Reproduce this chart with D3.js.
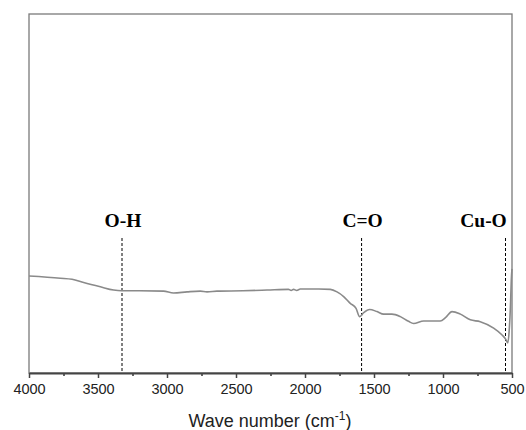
<!DOCTYPE html>
<html>
<head>
<meta charset="utf-8">
<script src="https://cdn.jsdelivr.net/npm/d3@7"></script>
<style>
  body { margin: 0; background: #fff; }
  svg { display: block; }
  .tick text { font-family: "Liberation Sans", Arial, sans-serif; }
</style>
</head>
<body>
<div id="chart"></div>
<script>
// FTIR spectrum (arbitrary transmittance units)
const waveNumbers = [4000, 3773, 3688, 3604, 3483, 3387, 3331, 3200, 3025, 2953, 2855,
  2759, 2710, 2638, 2450, 2275, 2120, 2100, 2083, 2060, 2034, 1900, 1817, 1768, 1720, 1672,
  1630, 1604, 1575, 1532, 1478, 1430, 1370, 1309, 1250, 1213, 1140, 1020, 980, 935, 874,
  802, 730, 633, 572, 547, 530, 520, 510, 505, 500];
const transmittance = [27.0, 26.4, 26.1, 25.2, 24.0, 23.1, 22.9, 22.9, 22.8, 22.3, 22.6,
  22.8, 22.6, 22.8, 22.9, 23.1, 23.3, 23.0, 23.3, 23.0, 23.4, 23.4, 23.3, 22.6, 21.3, 19.4,
  18.0, 15.7, 16.8, 17.7, 17.1, 16.4, 16.4, 15.7, 14.4, 13.8, 14.5, 14.5, 15.5, 17.1, 16.4,
  14.8, 14.3, 12.5, 10.6, 9.5, 8.4, 12.0, 20.0, 26.0, 29.0];

const tickValues = [4000, 3500, 3000, 2500, 2000, 1500, 1000, 500];
const minorTicks = [3750, 3250, 2750, 2250, 1750, 1250, 750];

const bands = ['O-H', 'C=O', 'Cu-O'];
const bandPositions = [3326, 1590, 547];

const width = 526, height = 430;
const m = { t: 14, r: 14, b: 57, l: 29 };

const svg = d3.select('#chart').append('svg')
    .attr('width', width)
    .attr('height', height);

const x = d3.scaleLinear().domain([4000, 500]).range([m.l, width - m.r]);
const y = d3.scaleLinear().domain([0, 100]).range([height - m.b, m.t]);

// frame
svg.append('rect')
    .attr('x', m.l)
    .attr('y', m.t)
    .attr('width', width - m.l - m.r)
    .attr('height', height - m.t - m.b)
    .attr('fill', 'none')
    .attr('stroke', '#7a7a7a')
    .attr('stroke-width', 1.3);

// band markers
bands.forEach((b, i) => {
  svg.append('line')
      .attr('x1', x(bandPositions[i]))
      .attr('x2', x(bandPositions[i]))
      .attr('y1', 238)
      .attr('y2', y(0))
      .attr('stroke', '#000')
      .attr('stroke-width', 1)
      .attr('stroke-dasharray', '3,2');
});

svg.selectAll('.band')
    .data(bands)
  .enter().append('text')
    .attr('class', 'band')
    .attr('x', (d, i) => i === 2 ? x(bandPositions[i]) - 22 : x(bandPositions[i]) + 1)
    .attr('y', 227)
    .attr('text-anchor', 'middle')
    .style('font-family', '"Liberation Serif", "Times New Roman", serif')
    .style('font-weight', 'bold')
    .style('font-size', '19.5px')
    .text(d => d);

// spectrum
const line = d3.line()
    .x((d, i) => x(waveNumbers[i]))
    .y(d => y(d))
    .curve(d3.curveMonotoneX);

svg.append('path')
    .datum(transmittance)
    .attr('fill', 'none')
    .attr('stroke', '#8a8a8a')
    .attr('stroke-width', 1.6)
    .attr('d', line);

// axes
svg.append('g')
    .attr('transform', `translate(0,${y(0)})`)
    .call(d3.axisBottom(x).tickValues(minorTicks).tickSize(3).tickFormat(''))
    .call(g => g.select('.domain').remove())
    .selectAll('line').attr('stroke', '#333').attr('stroke-width', 1.5);

const xAxis = svg.append('g')
    .attr('transform', `translate(0,${y(0)})`)
    .call(d3.axisBottom(x).tickValues(tickValues).tickFormat(d3.format('d'))
      .tickSize(5).tickSizeOuter(0).tickPadding(6));

xAxis.select('.domain').attr('stroke', '#444').attr('stroke-width', 1.8);
xAxis.selectAll('.tick line').attr('stroke', '#444').attr('stroke-width', 1.5);
xAxis.selectAll('.tick text')
    .attr('fill', '#222')
    .style('font-size', '14.5px');

const title = svg.append('text')
    .attr('x', 270)
    .attr('y', 427)
    .attr('text-anchor', 'middle')
    .attr('fill', '#222')
    .style('font-family', '"Liberation Sans", Arial, sans-serif')
    .style('font-size', '18px');
title.append('tspan').text('Wave number (cm');
title.append('tspan').attr('dy', -7).style('font-size', '12px').text('-1');
title.append('tspan').attr('dy', 7).text(')');
</script>
</body>
</html>
